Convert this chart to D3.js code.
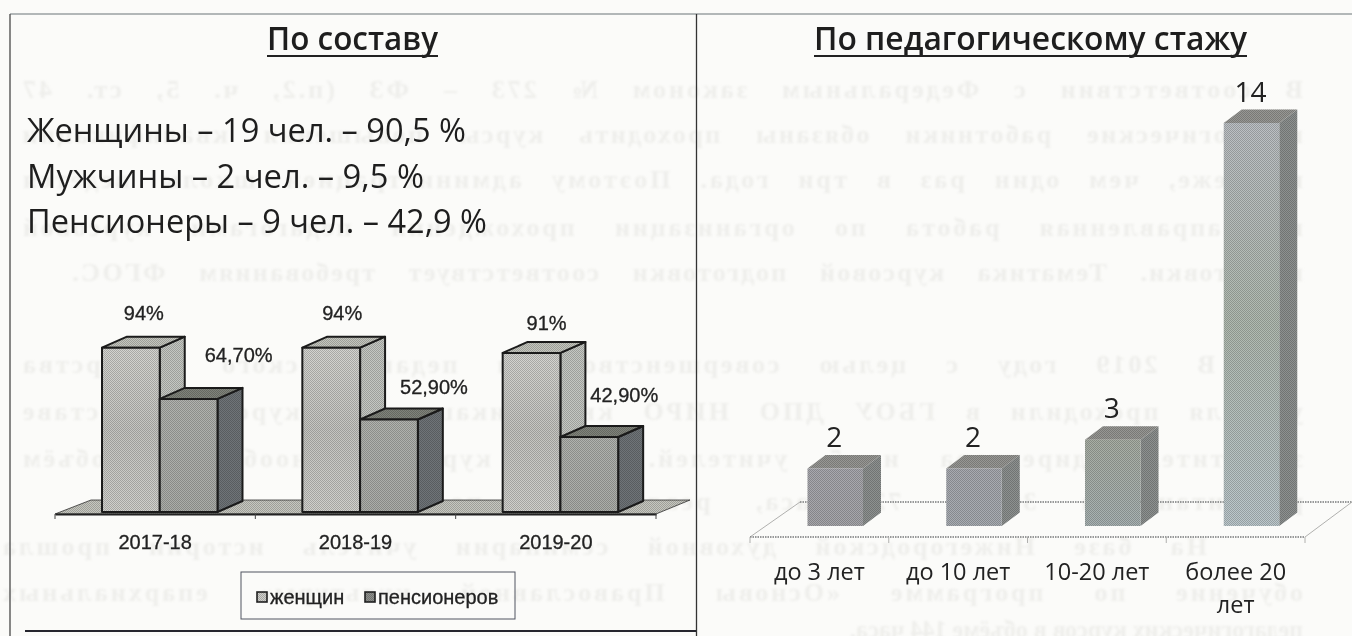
<!DOCTYPE html>
<html lang="ru"><head><meta charset="utf-8">
<script src="https://cdn.jsdelivr.net/npm/d3@7/dist/d3.min.js"></script>
<style>html,body{margin:0;padding:0;background:#fbfbf9;overflow:hidden}svg{display:block}</style>
</head><body><svg id="c" width="1352" height="636"></svg>
<script>
// ---- data ----
const years = ["2017-18","2018-19","2019-20"];
const seriesNames = ["женщин","пенсионеров"];
const womenPct = [94,94,91];
const pensionerPct = [64.7,52.9,42.9];
const womenLabels = ["94%","94%","91%"];
const pensionerLabels = ["64,70%","52,90%","42,90%"];
const expCats = ["до 3 лет","до 10 лет","10-20 лет","более 20 лет"];
const expValues = [2,2,3,14];
const titles = ["По составу","По педагогическому стажу"];
const compositionLines = ["Женщины – 19 чел. – 90,5 %","Мужчины – 2 чел. – 9,5 %","Пенсионеры – 9 чел. – 42,9 %"];
const ghostLines = [
"В соответствии с Федеральным законом № 273 – ФЗ (п.2, ч. 5, ст. 47",
"педагогические работники обязаны проходить курсы повышения квалификации",
"не реже, чем один раз в три года. Поэтому администрацией школы ведётся",
"целенаправленная работа по организации прохождения педагогами курсовой",
"подготовки. Тематика курсовой подготовки соответствует требованиям ФГОС.",
"В 2019 году с целью совершенствования педагогического мастерства",
"учителя проходили в ГБОУ ДПО НИРО квалификационные курсы, в составе",
"заместитель директора и 5 учителей. Темы курсов разнообразны, объём",
"рассчитан на 36 и 72 часа, реализуемых по выбору",
"На базе Нижегородской духовной семинарии учитель истории прошла",
"обучение по программе «Основы Православной культуры» епархиальных",
"педагогических курсов в объёме 144 часа."];

const svg = d3.select("#c");
const defs = svg.append("defs");
const stip = defs.append("pattern").attr("id","stip").attr("width",2).attr("height",2).attr("patternUnits","userSpaceOnUse");
stip.append("rect").attr("width",1).attr("height",1).attr("fill","#000").attr("opacity",.2);
stip.append("rect").attr("x",1).attr("y",1).attr("width",1).attr("height",1).attr("fill","#000").attr("opacity",.2);
const grad=(id,stops)=>{const g=defs.append("linearGradient").attr("id",id).attr("x1",0).attr("y1",0).attr("x2",0).attr("y2",1);
 stops.forEach((c,i)=>g.append("stop").attr("offset",i/(stops.length-1)).attr("stop-color",c));};
grad("g0",["#a8a8ae","#a6a6aa"]);grad("g1",["#a8aab0","#a8acb2"]);grad("g2",["#a8aea4","#a8b2b2"]);grad("g3",["#bcc0c4","#b0bab0","#bcc8cc"]);
grad("lw",["#d4d4d0","#c4c4c0","#d0d0cc"]);grad("lp",["#b0b2ae","#aaaca8"]);

// ---- bleed-through text (mirrored, seen through the page) ----
const ghost = svg.append("g").attr("font-family","Liberation Serif").attr("font-size",26).attr("font-weight",700).attr("fill","#eeeeeb").style("filter","blur(0.8px)");
const ghostY=[98,143,188,236,281,373,420,467,510,555,601,638];
const ghostStart=[1303,1303,1303,1303,1303,1215,1303,1303,1303,1207,1303,1303];
const ghostEnd=[20,20,20,20,70,20,20,20,300,0,0,850];
ghostLines.forEach((t,i)=>{
 const el=ghost.append("text").text(t).attr("transform",`translate(${ghostStart[i]},${ghostY[i]}) scale(-1,1)`);
 const target=ghostStart[i]-ghostEnd[i], len=el.node().getComputedTextLength(), gaps=t.split(" ").length-1;
 if(len<target){
  const extra=target-len, ls=Math.min(extra*0.55/t.length,3);
  el.style("letter-spacing",ls+"px").style("word-spacing",((extra-ls*t.length)/gaps)+"px");
 } else el.attr("textLength",target).attr("lengthAdjust","spacingAndGlyphs");
});

// ---- frame ----
const frame = svg.append("g");
frame.append("line").attr("x1",10).attr("x2",1352).attr("y1",14).attr("y2",14).attr("stroke","#6b7478").attr("stroke-width",1.2);
frame.append("line").attr("x1",10).attr("x2",10).attr("y1",14).attr("y2",636).attr("stroke","#555").attr("stroke-width",1.4);
frame.append("line").attr("x1",696.5).attr("x2",696.5).attr("y1",14).attr("y2",636).attr("stroke","#333").attr("stroke-width",1.3);
frame.append("line").attr("x1",25).attr("x2",696).attr("y1",631).attr("y2",631).attr("stroke","#26262e").attr("stroke-width",2);

// ---- headings ----
const sans="Open Sans";
[[267,171],[814,433]].forEach(([x,w],i)=>{
 svg.append("text").text(titles[i]).attr("x",x).attr("y",50).attr("font-family",sans).attr("font-size",32).attr("font-weight",600)
  .attr("fill","#1e1e1e").attr("textLength",w).attr("lengthAdjust","spacingAndGlyphs");
 svg.append("line").attr("x1",x).attr("x2",x+w).attr("y1",56).attr("y2",56).attr("stroke","#222").attr("stroke-width",1.8);
});
[[141.5,439],[188,397],[233,460]].forEach(([y,w],i)=>
 svg.append("text").text(compositionLines[i]).attr("x",27).attr("y",y).attr("font-family",sans).attr("font-size",33)
  .attr("fill","#1e1e1e").attr("textLength",w).attr("lengthAdjust","spacingAndGlyphs"));

// ---- 3D box helper ----
function box(g,x,w,top,base,dx,dy,c,stroke,sw){
 const poly=(pts,fill)=>{g.append("polygon").attr("points",pts.map(p=>p.join(",")).join(" ")).attr("fill",fill).attr("stroke",stroke).attr("stroke-width",sw).attr("stroke-linejoin","round");
  g.append("polygon").attr("points",pts.map(p=>p.join(",")).join(" ")).attr("fill","url(#stip)");};
 poly([[x+w,top],[x+w+dx,top-dy],[x+w+dx,base-dy],[x+w,base]],c.side);
 poly([[x,top],[x+dx,top-dy],[x+w+dx,top-dy],[x+w,top]],c.top);
 poly([[x,top],[x+w,top],[x+w,base],[x,base]],c.front);
}

// ---- left chart ----
const L=svg.append("g");
const lx=d3.scaleBand().domain(years).range([55,656]);
const lInner=d3.scaleBand().domain(seriesNames).range([47,162.5]);
const ly=d3.scaleLinear().domain([0,100]).range([512,337.2]);
const ldx=25,ldy=11;
const floorPts=[[lx.range()[0],514],[lx.range()[0]+36,500],[lx.range()[1]+34,500],[lx.range()[1],514]].join(" ");
L.append("polygon").attr("points",floorPts).attr("fill","#c6c7bf").attr("stroke","#333").attr("stroke-width",.8);
L.append("polygon").attr("points",floorPts).attr("fill","url(#stip)");
const lStyles=[{front:"url(#lw)",side:"#c4c7c2",top:"#c4c6be"},{front:"url(#lp)",side:"#6f7478",top:"#80837b"}];
years.forEach((yr,i)=>{
 [womenPct[i],pensionerPct[i]].forEach((v,s)=>box(L,lx(yr)+lInner(seriesNames[s]),lInner.bandwidth(),ly(v),ly(0),ldx,ldy,lStyles[s],"#1c1c1c",2));
});
const lAxG=L.append("g").attr("transform","translate(0,514)").call(d3.axisBottom(lx).tickSize(0).tickPadding(0));
lAxG.select(".domain").attr("stroke","#222").attr("stroke-width",2.2);
lAxG.selectAll("text").attr("font-family","Liberation Sans").attr("font-size",20).attr("fill","#222").attr("stroke","#222").attr("stroke-width",.3).attr("dy",0).attr("y",27.5).attr("text-anchor","middle").attr("dominant-baseline","central");
d3.range(4).forEach(i=>L.append("line").attr("x1",55+lx.step()*i).attr("x2",55+lx.step()*i).attr("y1",514).attr("y2",519).attr("stroke","#444"));
// data labels: [dx from bar centre, dy from bar top]
const womenNudge=[[13,-35],[11,-35],[15,-30]],penNudge=[[50,-44],[45,-33],[35,-42]];
const lblStyle=t=>t.attr("font-family","Liberation Sans").attr("font-size",20).attr("fill","#222").attr("stroke","#222").attr("stroke-width",.3).attr("text-anchor","middle").attr("dy",".35em");
years.forEach((yr,i)=>{
 const c=s=>lx(yr)+lInner(seriesNames[s])+lInner.bandwidth()/2;
 L.append("text").text(womenLabels[i]).attr("x",c(0)+womenNudge[i][0]).attr("y",ly(womenPct[i])+womenNudge[i][1]).call(lblStyle);
 L.append("text").text(pensionerLabels[i]).attr("x",c(1)+penNudge[i][0]).attr("y",ly(pensionerPct[i])+penNudge[i][1]).call(lblStyle);
});
// legend
const leg=L.append("g");
leg.append("rect").attr("x",241).attr("y",572).attr("width",274).attr("height",47).attr("fill","none").attr("stroke","#505560").attr("stroke-width",1);
[[257,270],[365,378]].forEach(([sx,tx],s)=>{
 leg.append("rect").attr("x",sx).attr("y",592).attr("width",10).attr("height",10).attr("fill",s?"#8e908c":"#cfcfcb").attr("stroke","#222").attr("stroke-width",1.6);
 leg.append("rect").attr("x",sx).attr("y",592).attr("width",10).attr("height",10).attr("fill","url(#stip)");
 leg.append("text").text(seriesNames[s]).attr("x",tx).attr("y",597).attr("dy",".35em").attr("font-family","Liberation Sans").attr("font-size",20).attr("fill","#222").attr("stroke","#222").attr("stroke-width",.3);
});

// ---- right chart ----
const R=svg.append("g");
const rx=d3.scaleBand().domain(expCats).range([750,1305]);
const ry=d3.scaleLinear().domain([0,14]).range([526,123]);
const rOffset=57.5,rW=55.5,rdx=18,rdy=13.5;
const floorLine=(x1,y1,x2,y2,dash)=>R.append("line").attr("x1",x1).attr("y1",y1).attr("x2",x2).attr("y2",y2).attr("stroke",dash?"#77797a":"#b0b0ae").attr("stroke-width",dash?1.6:1).attr("stroke-dasharray",dash?"1.5 1":null);
floorLine(800,502,1352,502,true);
floorLine(750,537,800,502,false);
floorLine(1305,537,1352,502,false);
floorLine(750,537,1305,537,true);
d3.range(5).forEach(i=>floorLine(750+rx.step()*i,537,750+rx.step()*i,543,false));
expCats.forEach((c,i)=>{
 box(R,rx(c)+rOffset,rW,ry(expValues[i]),ry(0),rdx,rdy,{front:`url(#g${i})`,side:"#8d9190",top:"#979794"},"none",0);
 R.append("text").text(expValues[i]).attr("x",rx(c)+rOffset+rW/2-1).attr("y",ry(expValues[i])-31).attr("dy",".35em")
  .attr("text-anchor","middle").attr("font-family",sans).attr("font-size",28).attr("fill","#222");
});
const rAxG=R.append("g").attr("transform","translate(0,537)").call(d3.axisBottom(rx).tickSize(0).tickPadding(0));
rAxG.select(".domain").remove();
rAxG.selectAll("text").each(function(d){
 const t=d3.select(this).text(null).attr("font-family",sans).attr("font-size",23.5).attr("fill","#222").attr("y",0).attr("dy",null);
 const parts=d==="более 20 лет"?["более 20","лет"]:[d];
 parts.forEach((p,k)=>t.append("tspan").attr("x",0).attr("y",35+k*33).attr("dy",".35em").text(p));
});
</script></body></html>
